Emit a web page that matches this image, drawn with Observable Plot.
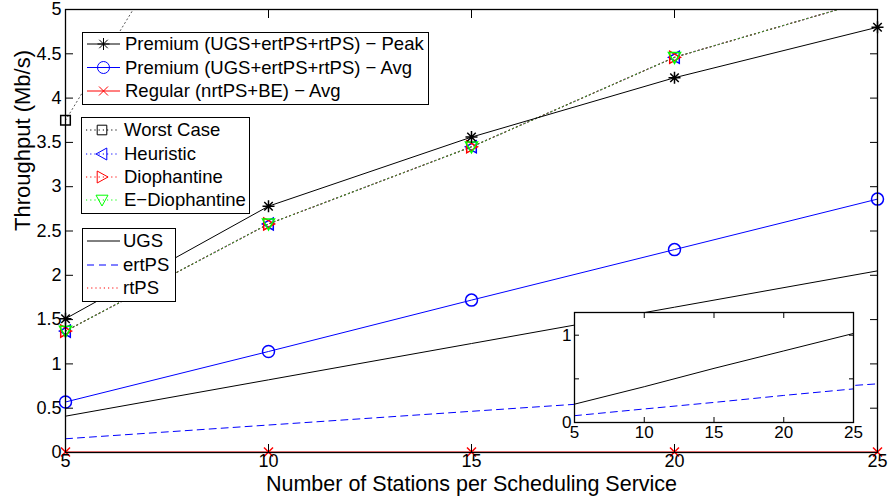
<!DOCTYPE html>
<html><head><meta charset="utf-8">
<script src="https://cdn.jsdelivr.net/npm/d3@7"></script>
<script src="https://cdn.jsdelivr.net/npm/@observablehq/plot@0.6"></script>
<style>
html,body{margin:0;padding:0;background:#fff;}
#wrap{position:relative;width:888px;height:502px;overflow:hidden;}
#inset{position:absolute;left:554px;top:310px;}
</style></head><body><div id="wrap"><div id="main"></div><div id="inset"></div></div>
<script>
// ---------- data ----------
const stations = [5, 10, 15, 20, 25];
const xTicks = [5, 10, 15, 20, 25];
const yTicks = [0, 0.5, 1, 1.5, 2, 2.5, 3, 3.5, 4, 4.5, 5];
const premiumPeak = [1.51, 2.78, 3.56, 4.23, 4.80];
const premiumAvg = [0.57, 1.14, 1.72, 2.29, 2.86];
const regularAvg = [0.005, 0.005, 0.005, 0.005, 0.005];
const worstCase = [3.75, 7.5, 11.25, 15, 18.75];
const heuristic = [1.37, 2.58, 3.45, 4.46, 5.13];
const diophantine = [1.37, 2.58, 3.45, 4.46, 5.13];
const eDiophantine = [1.37, 2.58, 3.45, 4.46, 5.13];
const ugs = [0.41, 0.82, 1.23, 1.64, 2.05];
const ertps = [0.155, 0.31, 0.465, 0.62, 0.775];
const rtps = [0, 0, 0, 0, 0];
const insetUgs = [0.21, 0.41, 0.62, 0.82, 1.02];
const insetErtps = [0.078, 0.155, 0.23, 0.31, 0.385];
const insetRtps = [0, 0, 0, 0, 0];
const insetYTicks = [0, 0.5, 1];
const insetYLabels = ["0", "", "1"];

const FONT = "'Liberation Sans', Arial, Helvetica, sans-serif";
const BLUE = "#0000ff", RED = "#ff0000", GREEN = "#00ff00", BLACK = "#000000";

const rows = arr => stations.map((x, i) => ({x, y: arr[i]}));
const visible = arr => rows(arr).filter(d => d.y <= 5);

// ---------- symbols ----------
const R = s => Math.sqrt(s / Math.PI);
const symAsterisk = {draw(c, s) { const r = R(s), d = r * 0.7071;
  c.moveTo(-r, 0); c.lineTo(r, 0); c.moveTo(0, -r); c.lineTo(0, r);
  c.moveTo(-d, -d); c.lineTo(d, d); c.moveTo(-d, d); c.lineTo(d, -d); }};
const symTimes = {draw(c, s) { const r = R(s) * 0.75;
  c.moveTo(-r, -r); c.lineTo(r, r); c.moveTo(-r, r); c.lineTo(r, -r); }};
const symCircle = {draw(c, s) { const r = R(s); c.moveTo(r, 0); c.arc(0, 0, r, 0, 2 * Math.PI); }};
const symSquare = {draw(c, s) { const r = R(s) * 0.8; c.rect(-r, -r, 2 * r, 2 * r); }};
const symTriLeft = {draw(c, s) { const r = R(s); c.moveTo(-r, 0); c.lineTo(r * 0.8, -r); c.lineTo(r * 0.8, r); c.closePath(); }};
const symTriRight = {draw(c, s) { const r = R(s); c.moveTo(r, 0); c.lineTo(-r * 0.8, -r); c.lineTo(-r * 0.8, r); c.closePath(); }};
const symTriDown = {draw(c, s) { const r = R(s); c.moveTo(0, r); c.lineTo(-r, -r * 0.8); c.lineTo(r, -r * 0.8); c.closePath(); }};

const DOT = "1.2,3";

// ---------- main chart ----------
const main = Plot.plot({
  width: 888, height: 502,
  marginLeft: 65, marginRight: 11, marginTop: 9, marginBottom: 50,
  style: {fontFamily: FONT, fontSize: "18px", background: "white", color: "black"},
  x: {domain: [5, 25]},
  y: {domain: [0, 5]},
  marks: [
    Plot.line(rows(ugs), {x: "x", y: "y", stroke: BLACK, strokeWidth: 1, clip: true}),
    Plot.line(rows(ertps), {x: "x", y: "y", stroke: BLUE, strokeWidth: 1, strokeDasharray: "7,5", clip: true}),
    Plot.line(rows(rtps), {x: "x", y: "y", stroke: RED, strokeWidth: 1, strokeDasharray: DOT, clip: true}),
    Plot.line(rows(worstCase), {x: "x", y: "y", stroke: "#555", strokeWidth: 1, strokeDasharray: DOT, clip: true}),
    Plot.line(rows(heuristic), {x: "x", y: "y", stroke: BLUE, strokeWidth: 1, strokeDasharray: DOT, clip: true}),
    Plot.line(rows(diophantine), {x: "x", y: "y", stroke: RED, strokeWidth: 1, strokeDasharray: DOT, clip: true}),
    Plot.line(rows(eDiophantine), {x: "x", y: "y", stroke: "#3f8f2f", strokeWidth: 1.2, strokeDasharray: DOT, clip: true}),
    Plot.line(rows(regularAvg), {x: "x", y: "y", stroke: RED, strokeWidth: 1.2, clip: true}),
    Plot.line(rows(premiumAvg), {x: "x", y: "y", stroke: BLUE, strokeWidth: 1, clip: true}),
    Plot.line(rows(premiumPeak), {x: "x", y: "y", stroke: BLACK, strokeWidth: 1, clip: true}),
    Plot.dot(visible(worstCase), {x: "x", y: "y", symbol: symSquare, r: 6, stroke: BLACK, fill: "none"}),
    Plot.dot(visible(heuristic), {x: "x", y: "y", symbol: symTriLeft, r: 6, stroke: BLUE, fill: "none"}),
    Plot.dot(visible(diophantine), {x: "x", y: "y", symbol: symTriRight, r: 6, stroke: RED, fill: "none"}),
    Plot.dot(visible(eDiophantine), {x: "x", y: "y", symbol: symTriDown, r: 6, stroke: GREEN, fill: "none"}),
    Plot.dot(visible(regularAvg), {x: "x", y: "y", symbol: symTimes, r: 6, stroke: RED, fill: "none"}),
    Plot.dot(visible(premiumAvg), {x: "x", y: "y", symbol: symCircle, r: 6, stroke: BLUE, fill: "none"}),
    Plot.dot(visible(premiumPeak), {x: "x", y: "y", symbol: symAsterisk, r: 6, stroke: BLACK, fill: "none"}),
    Plot.axisX({ticks: xTicks, tickSize: -8, tickPadding: 10, tickFormat: d => String(d), label: null}),
    Plot.axisX({anchor: "top", ticks: xTicks, tickSize: -8, tickFormat: () => "", label: null}),
    Plot.axisY({ticks: yTicks, tickSize: -8, tickPadding: 12, tickFormat: d => String(d), label: null}),
    Plot.axisY({anchor: "right", ticks: yTicks, tickSize: -8, tickFormat: () => "", label: null}),
    Plot.frame({stroke: BLACK, strokeWidth: 1.3}),
    Plot.text(["Number of Stations per Scheduling Service"], {frameAnchor: "bottom", dy: 38, fontSize: 21.5}),
    Plot.text(["Throughput (Mb/s)"], {frameAnchor: "left", dx: -43, rotate: -90, fontSize: 22})
  ]
});
document.getElementById("main").appendChild(main);

// ---------- legends ----------
function drawLegend(svg, box, entries) {
  const g = d3.select(svg).append("g").attr("font-family", FONT).attr("font-size", 18.5)
    .attr("text-anchor", "start");
  g.append("rect").attr("x", box.x).attr("y", box.y).attr("width", box.w).attr("height", box.h)
    .attr("fill", "white").attr("stroke", "black").attr("stroke-width", 1);
  entries.forEach(e => {
    g.append("line").attr("x1", box.lx1).attr("x2", box.lx2).attr("y1", e.y).attr("y2", e.y)
      .attr("stroke", e.stroke).attr("stroke-dasharray", e.dash || null);
    if (e.symbol) {
      const p = d3.path(); e.symbol.draw(p, Math.PI * 36);
      g.append("path").attr("d", p.toString())
        .attr("transform", `translate(${(box.lx1 + box.lx2) / 2},${e.y})`)
        .attr("fill", "none").attr("stroke", e.mstroke || e.stroke);
    }
    g.append("text").attr("x", box.tx).attr("y", e.y).attr("dy", "0.35em")
      .attr("text-anchor", "start").attr("fill", "black").text(e.label);
  });
}
drawLegend(main, {x: 82.5, y: 32.5, w: 346, h: 72, lx1: 87, lx2: 120, tx: 125}, [
  {y: 44, stroke: BLACK, symbol: symAsterisk, label: "Premium (UGS+ertPS+rtPS) \u2212 Peak"},
  {y: 67.5, stroke: BLUE, symbol: symCircle, label: "Premium (UGS+ertPS+rtPS) \u2212 Avg"},
  {y: 91, stroke: RED, symbol: symTimes, label: "Regular (nrtPS+BE) \u2212 Avg"}
]);
drawLegend(main, {x: 81.5, y: 117.5, w: 168, h: 96, lx1: 86, lx2: 118, tx: 124}, [
  {y: 130, stroke: BLACK, dash: DOT, symbol: symSquare, label: "Worst Case"},
  {y: 154, stroke: BLUE, dash: DOT, symbol: symTriLeft, label: "Heuristic"},
  {y: 177, stroke: RED, dash: DOT, symbol: symTriRight, label: "Diophantine"},
  {y: 200, stroke: GREEN, dash: DOT, symbol: symTriDown, label: "E\u2212Diophantine"}
]);
drawLegend(main, {x: 82.5, y: 228.5, w: 93, h: 73, lx1: 87, lx2: 120, tx: 123}, [
  {y: 241, stroke: BLACK, label: "UGS"},
  {y: 265, stroke: BLUE, dash: "7,5", label: "ertPS"},
  {y: 288, stroke: RED, dash: DOT, label: "rtPS"}
]);

// ---------- inset ----------
const inset = Plot.plot({
  width: 314, height: 136,
  marginLeft: 20, marginRight: 15, marginTop: 2, marginBottom: 24,
  style: {fontFamily: FONT, fontSize: "17px", background: "transparent", color: "black", overflow: "visible"},
  x: {domain: [5, 25]},
  y: {domain: [0, 1.26]},
  marks: [
    Plot.frame({fill: "white", stroke: "none"}),
    Plot.line(rows(insetUgs), {x: "x", y: "y", stroke: BLACK, strokeWidth: 1}),
    Plot.line(rows(insetErtps), {x: "x", y: "y", stroke: BLUE, strokeWidth: 1, strokeDasharray: "7,5"}),
    Plot.line(rows(insetRtps), {x: "x", y: "y", stroke: RED, strokeWidth: 1, strokeDasharray: DOT}),
    Plot.axisX({ticks: xTicks, tickSize: -5, tickPadding: 8, tickFormat: d => String(d), label: null}),
    Plot.axisX({anchor: "top", ticks: xTicks, tickSize: -5, tickFormat: () => "", label: null}),
    Plot.axisY({ticks: insetYTicks, tickSize: -5, tickPadding: 8, tickFormat: (d, i) => insetYLabels[i], label: null}),
    Plot.axisY({anchor: "right", ticks: insetYTicks, tickSize: -5, tickFormat: () => "", label: null}),
    Plot.frame({stroke: BLACK, strokeWidth: 1.3})
  ]
});
document.getElementById("inset").appendChild(inset);
</script></body></html>
